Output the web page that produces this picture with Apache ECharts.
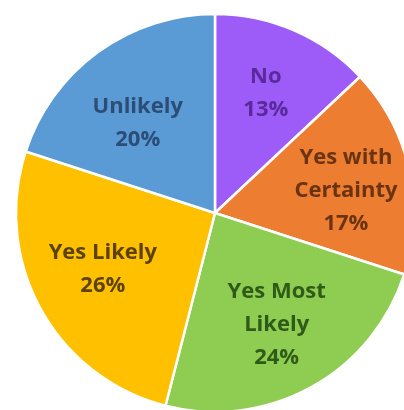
<!DOCTYPE html>
<html>
<head>
<meta charset="utf-8">
<script src="https://cdn.jsdelivr.net/npm/echarts@6/dist/echarts.min.js"></script>
<style>
  html, body { margin: 0; padding: 0; background: #fff; }
  #main { width: 404px; height: 410px; }
</style>
</head>
<body>
<div id="main"></div>
<script>
var categories = ['No', 'Yes with\nCertainty', 'Yes Most\nLikely', 'Yes Likely', 'Unlikely'];
var shares = [13, 17, 24, 26, 20];
var sliceColors = ['#9d5cf7', '#ed7d31', '#8fcc52', '#ffc000', '#5b9bd5'];
var textColors = ['#5a2a9c', '#6a3412', '#2f5a17', '#5c4200', '#2c4d78'];

var chart = echarts.init(document.getElementById('main'));

var data = categories.map(function (name, i) {
    return {
        name: name,
        value: shares[i],
        itemStyle: { color: sliceColors[i] },
        label: { color: textColors[i] }
    };
});

// small nudges so the labels sit where the original put them
var nudge = [[0, -2], [6, 6], [0, 0], [0, -5], [-2, 14]];

chart.setOption({
    animation: false,
    series: [{
        type: 'pie',
        center: [215, 213],
        radius: 199,
        startAngle: 90,
        clockwise: true,
        silent: true,
        itemStyle: { borderColor: '#fff', borderWidth: 2.5 },
        label: { show: false },
        labelLine: { show: false },
        data: data
    }, {
        type: 'pie',
        center: [215, 213],
        radius: [50, 200],
        startAngle: 90,
        clockwise: true,
        silent: true,
        itemStyle: { color: 'transparent' },
        label: {
            show: true,
            position: 'inside',
            formatter: '{b}\n{c}%',
            fontFamily: 'Open Sans',
            fontWeight: 'bold',
            fontSize: 22,
            lineHeight: 33
        },
        labelLayout: function (p) {
            return { dx: nudge[p.dataIndex][0], dy: nudge[p.dataIndex][1] };
        },
        labelLine: { show: false },
        data: data.map(function (d) {
            return { name: d.name, value: d.value, label: d.label };
        })
    }]
});
</script>
</body>
</html>
